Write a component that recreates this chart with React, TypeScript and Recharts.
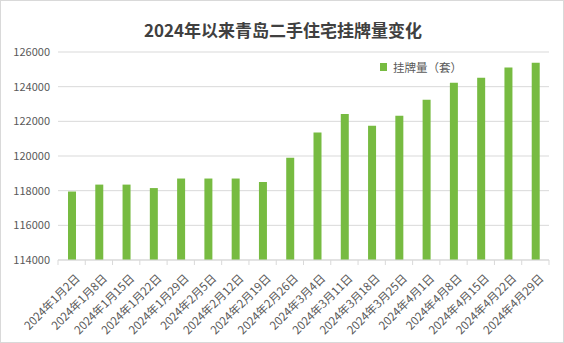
import React from 'react';
import { BarChart, Bar, XAxis, YAxis, CartesianGrid } from 'recharts';

const categories = [
  '2024年1月2日', '2024年1月8日', '2024年1月15日', '2024年1月22日', '2024年1月29日',
  '2024年2月5日', '2024年2月12日', '2024年2月19日', '2024年2月26日', '2024年3月4日',
  '2024年3月11日', '2024年3月18日', '2024年3月25日', '2024年4月1日', '2024年4月8日',
  '2024年4月15日', '2024年4月22日', '2024年4月29日',
];
const listings = [
  117950, 118350, 118350, 118150, 118700, 118700, 118700, 118500, 119900, 121350,
  122420, 121750, 122320, 123250, 124220, 124520, 125100, 125380,
];
const yTicks = [114000, 116000, 118000, 120000, 122000, 124000, 126000];
const seriesName = '挂牌量（套）';
const title = '2024年以来青岛二手住宅挂牌量变化';

const data = categories.map((c, i) => ({ date: c, value: listings[i] }));

const FONT = '"Noto Sans CJK SC", "Noto Sans", sans-serif';
const TEXT = '#595959';
const GRID = '#d9d9d9';
const GREEN = '#77BB41';

const CategoryTick = (props: any) => {
  const { x, y, payload, index } = props;
  const plotW = 564 - 58 - 15;
  const step = plotW / categories.length;
  const ax = x + 9;
  const ay = y + 11;
  return (
    <g>
      <line x1={x - step / 2} y1={y - 8} x2={x - step / 2} y2={y - 3} stroke={GRID} strokeWidth={1} />
      {index === categories.length - 1 && (
        <line x1={x + step / 2} y1={y - 8} x2={x + step / 2} y2={y - 3} stroke={GRID} strokeWidth={1} />
      )}
      <text
        x={ax}
        y={ay}
        textAnchor="end"
        fill={TEXT}
        fontSize={11.5}
        fontFamily={FONT}
        transform={`rotate(-45, ${ax}, ${ay})`}
      >
        {payload.value}
      </text>
    </g>
  );
};

export default function App() {
  return (
    <div
      style={{
        position: 'fixed',
        top: 0,
        left: 0,
        width: 564,
        height: 343,
        boxSizing: 'border-box',
        border: '1px solid #d9d9d9',
        background: '#fff',
        overflow: 'hidden',
      }}
    >
      <div
        style={{
          position: 'absolute',
          top: 17,
          left: 0,
          width: 564,
          textAlign: 'center',
          fontFamily: FONT,
          fontWeight: 'bold',
          fontSize: 17,
          color: '#404040',
          lineHeight: '24px',
        }}
      >
        {title}
      </div>
      <div style={{ position: 'absolute', top: -1, left: -1 }}>
        <BarChart width={564} height={343} data={data} margin={{ top: 52, right: 15, left: 0, bottom: 0 }}>
          <CartesianGrid vertical={false} stroke={GRID} strokeWidth={1} />
          <XAxis
            dataKey="date"
            interval={0}
            height={83}
            axisLine={{ stroke: GRID }}
            tickLine={false}
            tick={<CategoryTick />}
          />
          <YAxis
            domain={[114000, 126000]}
            ticks={yTicks}
            width={58}
            axisLine={false}
            tickLine={false}
            tick={{ fill: TEXT, fontSize: 11, fontFamily: FONT }}
            tickMargin={2}
          />
          <Bar dataKey="value" name={seriesName} fill={GREEN} barSize={8} isAnimationActive={false} />
        </BarChart>
      </div>
      <div
        style={{
          position: 'absolute',
          top: 58,
          left: 379,
          display: 'flex',
          alignItems: 'center',
          fontFamily: FONT,
          fontSize: 11.5,
          color: TEXT,
          lineHeight: '16px',
        }}
      >
        <span style={{ display: 'inline-block', width: 7, height: 8, background: GREEN, marginRight: 6 }} />
        <span>{seriesName}</span>
      </div>
    </div>
  );
}
